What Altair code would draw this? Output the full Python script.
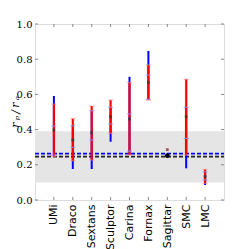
import altair as alt
import pandas as pd

galaxies = ["UMi", "Draco", "Sextans", "Sculptor", "Carina", "Fornax", "Sagittar", "SMC", "LMC"]
blue_lo = [0.246, 0.176, 0.176, 0.331, 0.256, 0.568, None, 0.180, 0.085]
blue_hi = [0.591, 0.420, 0.507, 0.527, 0.700, 0.847, None, 0.527, 0.160]
red_lo = [0.246, 0.223, 0.227, 0.379, 0.256, 0.568, None, 0.256, 0.095]
red_hi = [0.545, 0.462, 0.534, 0.568, 0.667, 0.767, None, 0.686, 0.174]
inner_lo = [0.255, 0.299, 0.341, 0.432, 0.278, 0.572, None, 0.350, 0.114]
inner_hi = [0.420, 0.422, 0.507, 0.527, 0.489, 0.710, None, 0.527, 0.160]
median = [0.398, 0.341, 0.382, 0.473, 0.460, 0.667, None, 0.473, 0.133]
sag_black_point = 0.252
sag_red_point = 0.286
band_lo, band_hi = 0.10, 0.39
blue_line, black_line = 0.263, 0.246
yticks = [0.0, 0.2, 0.4, 0.6, 0.8, 1.0]
y_title = "r\u2009ₚ\u2009/\u2009r\u2009ₐ"

W, H = 189, 176

df = pd.DataFrame({
    "galaxy": galaxies, "blo": blue_lo, "bhi": blue_hi,
    "rlo": red_lo, "rhi": red_hi, "ilo": inner_lo, "ihi": inner_hi,
    "med": median,
})
caps = pd.concat([
    pd.DataFrame({"galaxy": galaxies, "v": inner_lo}),
    pd.DataFrame({"galaxy": galaxies, "v": inner_hi}),
]).dropna()
ends = pd.concat([
    pd.DataFrame({"galaxy": galaxies, "v": red_lo}),
    pd.DataFrame({"galaxy": galaxies, "v": red_hi}),
]).dropna()
sag = pd.DataFrame({"galaxy": ["Sagittar"], "v": [sag_red_point]})
sagb = pd.DataFrame({"galaxy": ["Sagittar"], "v": [sag_black_point]})
ticks_df = pd.DataFrame({"t": yticks})
band = pd.DataFrame({"lo": [band_lo], "hi": [band_hi]})
lines = pd.DataFrame({"y": [blue_line, black_line], "c": ["blue", "black"]})
title_df = pd.DataFrame({"label": [y_title]})

xs = alt.Scale(type="point", padding=1, domain=galaxies)
ys = alt.Scale(domain=[0, 1], nice=False, zero=False)
xenc = alt.X("galaxy:N", scale=xs, sort=galaxies,
             axis=alt.Axis(title=None, ticks=False, domain=False, labelAngle=-90,
                           labelAlign="right", labelBaseline="middle", labelPadding=4,
                           labelFont="DejaVu Sans", labelFontSize=11, labelColor="black",
                           labelOverlap=False))
yaxis = alt.Axis(title=None, ticks=False, domain=False, values=yticks, format=".1f",
                 labelFont="DejaVu Serif", labelFontSize=10, labelColor="black",
                 labelPadding=3, grid=False, labelOverlap=False)

band_l = alt.Chart(band).mark_rect(color="#e5e5e5").encode(
    y=alt.Y("lo:Q", scale=ys, axis=yaxis), y2="hi:Q",
    x=alt.value(0), x2=alt.value(W))

line_l = alt.Chart(lines).mark_rule(strokeDash=[4, 2], strokeWidth=1.8).encode(
    y=alt.Y("y:Q", axis=yaxis), x=alt.value(0), x2=alt.value(W),
    color=alt.Color("c:N", scale=alt.Scale(domain=["blue", "black"], range=["#0000ff", "#222222"]), legend=None))

blue_l = alt.Chart(df).mark_rule(color="#0000ff", strokeWidth=2).encode(
    x=xenc, y=alt.Y("blo:Q", axis=yaxis), y2="bhi:Q")
red_halo = alt.Chart(df).mark_rule(color="#ff0000", strokeWidth=3, opacity=0.2).encode(
    x="galaxy:N", y=alt.Y("rlo:Q", axis=yaxis), y2="rhi:Q")
red_l = alt.Chart(df).mark_rule(color="#ff0000", strokeWidth=2).encode(
    x="galaxy:N", y=alt.Y("rlo:Q", axis=yaxis), y2="rhi:Q")
end_l = alt.Chart(ends).mark_tick(color="#ff8080", size=5, thickness=1, orient="horizontal").encode(
    x="galaxy:N", y=alt.Y("v:Q", axis=yaxis))
cap_l = alt.Chart(caps).mark_tick(color="#9d8cf5", size=5, thickness=1, opacity=0.9, orient="horizontal").encode(
    x="galaxy:N", y=alt.Y("v:Q", axis=yaxis))
med_l = alt.Chart(df).mark_point(shape="square", filled=True, color="#333333", size=8).encode(
    x="galaxy:N", y=alt.Y("med:Q", axis=yaxis))
sag_l = alt.Chart(sag).mark_point(shape="square", filled=True, color="#8b1a1a", size=8).encode(
    x="galaxy:N", y=alt.Y("v:Q", axis=yaxis))
sagb_l = alt.Chart(sagb).mark_point(shape="circle", filled=True, color="#000000", size=22, opacity=1).encode(
    x="galaxy:N", y=alt.Y("v:Q", axis=yaxis))

tk_left = alt.Chart(ticks_df).mark_rule(color="#888888").encode(
    y=alt.Y("t:Q", axis=yaxis), x=alt.value(0), x2=alt.value(3))
tk_right = alt.Chart(ticks_df).mark_rule(color="#888888").encode(
    y=alt.Y("t:Q", axis=yaxis), x=alt.value(W - 3), x2=alt.value(W))
gdf = pd.DataFrame({"galaxy": galaxies})
tk_top = alt.Chart(gdf).mark_rule(color="#888888").encode(
    x="galaxy:N", y=alt.value(0), y2=alt.value(3))
tk_bot = alt.Chart(gdf).mark_rule(color="#888888").encode(
    x="galaxy:N", y=alt.value(H - 3), y2=alt.value(H))

title_l = alt.Chart(title_df).mark_text(
    angle=270, align="center", baseline="alphabetic", font="DejaVu Serif",
    fontStyle="italic", fontSize=11, color="black"
).encode(text="label:N", x=alt.value(-16), y=alt.value(88))

chart = alt.layer(
    band_l, line_l, blue_l, red_halo, red_l, end_l, cap_l, med_l, sag_l, sagb_l,
    tk_left, tk_right, tk_top, tk_bot, title_l
).properties(
    width=W, height=H,
    autosize=alt.AutoSizeParams(type="none"),
    padding={"left": 27, "top": 16, "right": 10, "bottom": 50},
).configure_view(stroke="#888888", strokeWidth=1).configure_axis(
    labelOverlap=False
).configure(background="white")

chart.save("out.html", embed_options={"renderer": "svg", "actions": False})
